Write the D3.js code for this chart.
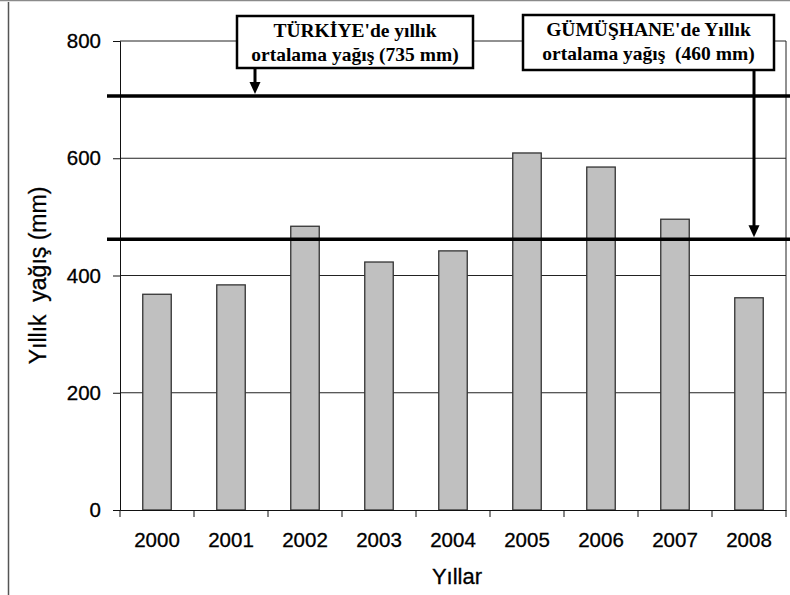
<!DOCTYPE html>
<html>
<head>
<meta charset="utf-8">
<script src="https://cdn.jsdelivr.net/npm/d3@7"></script>
<style>
  body { margin: 0; background: #fff; }
  svg { display: block; }
</style>
</head>
<body>
<div id="chart"></div>
<script>
// data
const years = ["2000", "2001", "2002", "2003", "2004", "2005", "2006", "2007", "2008"];
const rainfall = [368, 384, 484, 423, 442, 609, 585, 496, 362];
const yTicks = [0, 200, 400, 600, 800];
const refValues = [706, 462];
const noteLines = [
  ["TÜRKİYE'de yıllık", "ortalama yağış (735 mm)"],
  ["GÜMÜŞHANE'de Yıllık", "ortalama yağış  (460 mm)"]
];

const width = 790, height = 595;
const plotLeft = 120, plotRight = 786, plotTop = 41, plotBottom = 510;

const svg = d3.select("#chart").append("svg")
  .attr("width", width)
  .attr("height", height);

// frame bits from the sheet around the chart
svg.append("line").attr("x1", 0).attr("x2", width).attr("y1", 0.5).attr("y2", 0.5)
  .attr("stroke", "#8a8a8a").attr("stroke-width", 1.5);
svg.append("line").attr("x1", 8.5).attr("x2", 8.5).attr("y1", 2).attr("y2", height)
  .attr("stroke", "#555").attr("stroke-width", 1.5);

const x = d3.scaleBand()
  .domain(years)
  .range([plotLeft, plotRight])
  .paddingInner(0.615)
  .paddingOuter(0.3075);

const y = d3.scaleLinear()
  .domain([0, 800])
  .range([plotBottom, plotTop]);

// gridlines
svg.append("g")
  .selectAll("line")
  .data(yTicks.filter(d => d > 0))
  .enter().append("line")
  .attr("x1", plotLeft).attr("x2", plotRight)
  .attr("y1", d => y(d)).attr("y2", d => y(d))
  .attr("stroke", "#222").attr("stroke-width", 1);

// plot area right border
svg.append("line")
  .attr("x1", plotRight).attr("x2", plotRight)
  .attr("y1", y(800)).attr("y2", y(0))
  .attr("stroke", "#222").attr("stroke-width", 1);

// bars
svg.append("g")
  .selectAll("rect")
  .data(rainfall)
  .enter().append("rect")
  .attr("x", (d, i) => x(years[i]))
  .attr("y", d => y(d))
  .attr("width", x.bandwidth())
  .attr("height", d => y(0) - y(d))
  .attr("fill", "#c0c0c0")
  .attr("stroke", "#333")
  .attr("stroke-width", 1.3);

// y axis
const yAxis = svg.append("g")
  .attr("transform", `translate(${plotLeft},0)`)
  .call(d3.axisLeft(y).tickValues(yTicks).tickSize(7).tickPadding(12));
yAxis.select(".domain").attr("stroke", "#111");
yAxis.selectAll(".tick line").attr("stroke", "#111");
yAxis.selectAll("text")
  .attr("font-family", "Liberation Sans, Arial, sans-serif")
  .attr("font-size", 20.5)
  .attr("fill", "#000")
  .attr("stroke", "#000").attr("stroke-width", 0.3);

// x axis, ticks on category boundaries
const xAxis = svg.append("g")
  .attr("transform", `translate(0,${plotBottom})`)
  .call(d3.axisBottom(x).tickSize(0).tickPadding(22));
xAxis.select(".domain").attr("stroke", "#111");
xAxis.selectAll("text")
  .attr("font-family", "Liberation Sans, Arial, sans-serif")
  .attr("font-size", 20.5)
  .attr("fill", "#000")
  .attr("stroke", "#000").attr("stroke-width", 0.3);
svg.append("g")
  .selectAll("line")
  .data(d3.range(years.length + 1))
  .enter().append("line")
  .attr("x1", i => plotLeft + i * x.step()).attr("x2", i => plotLeft + i * x.step())
  .attr("y1", plotBottom).attr("y2", plotBottom + 7)
  .attr("stroke", "#111");

// axis titles
svg.append("text")
  .attr("transform", `translate(46,${(plotTop + plotBottom) / 2}) rotate(-90)`)
  .attr("text-anchor", "middle")
  .attr("font-family", "Liberation Sans, Arial, sans-serif")
  .attr("font-size", 23)
  .attr("stroke", "#000").attr("stroke-width", 0.3)
  .attr("xml:space", "preserve")
  .style("white-space", "pre")
  .text("Yıllık  yağış (mm)");

svg.append("text")
  .attr("x", (plotLeft + plotRight) / 2 + 4)
  .attr("y", 584)
  .attr("text-anchor", "middle")
  .attr("font-family", "Liberation Sans, Arial, sans-serif")
  .attr("font-size", 22)
  .attr("stroke", "#000").attr("stroke-width", 0.3)
  .text("Yıllar");

// reference lines
svg.append("g")
  .selectAll("line")
  .data(refValues)
  .enter().append("line")
  .attr("x1", 107).attr("x2", width)
  .attr("y1", d => y(d)).attr("y2", d => y(d))
  .attr("stroke", "#000")
  .attr("stroke-width", 3.5);

// note boxes with arrows
const boxes = [
  { x0: 237, x1: 473, y0: 16, y1: 68, ax: 255 },
  { x0: 523, x1: 774, y0: 15, y1: 70, ax: 754 }
];

boxes.forEach((b, i) => {
  const tip = y(refValues[i]) - 2;
  svg.append("line")
    .attr("x1", b.ax).attr("x2", b.ax)
    .attr("y1", b.y1).attr("y2", tip - 10)
    .attr("stroke", "#000").attr("stroke-width", 3);
  svg.append("path")
    .attr("d", `M${b.ax - 5.5},${tip - 12} L${b.ax + 5.5},${tip - 12} L${b.ax},${tip} Z`)
    .attr("fill", "#000");

  svg.append("rect")
    .attr("x", b.x0).attr("y", b.y0)
    .attr("width", b.x1 - b.x0).attr("height", b.y1 - b.y0)
    .attr("fill", "#fff")
    .attr("stroke", "#000")
    .attr("stroke-width", 2.5);

  svg.append("text")
    .attr("text-anchor", "middle")
    .attr("font-family", "Liberation Serif, Times New Roman, serif")
    .attr("font-weight", "bold")
    .attr("font-size", 19.5)
    .attr("xml:space", "preserve")
    .style("white-space", "pre")
    .selectAll("tspan")
    .data(noteLines[i])
    .enter().append("tspan")
    .attr("x", (b.x0 + b.x1) / 2)
    .attr("y", (d, j) => b.y0 + 21 + j * 24)
    .text(d => d);
});
</script>
</body>
</html>
